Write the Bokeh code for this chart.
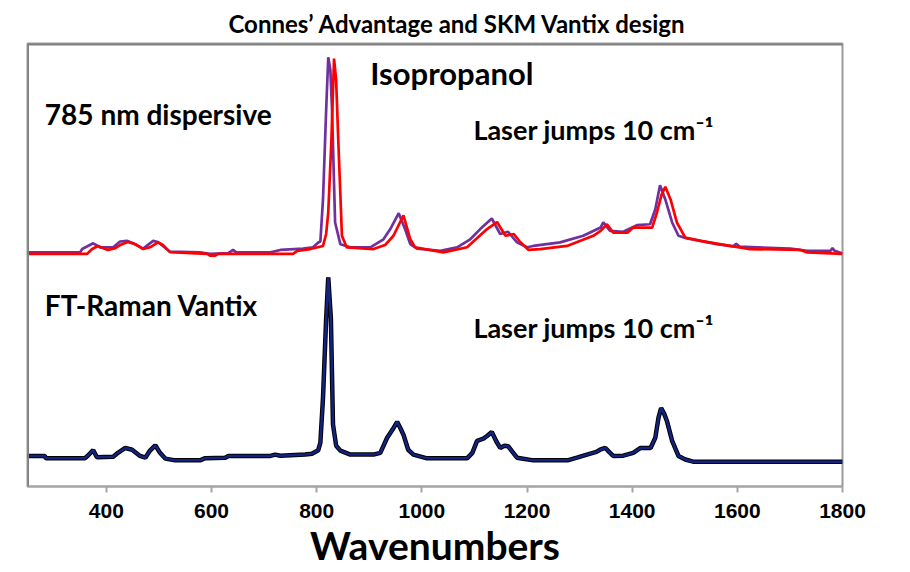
from bokeh.plotting import figure
from bokeh.models import Range1d, Label, Span, FixedTicker
from bokeh.embed import file_html
from bokeh.resources import INLINE

# ---- data (wavenumber cm-1, intensity arbitrary units incl. vertical offset) ----
ft_wn = [250, 283, 285, 359, 365, 375, 382, 413, 422, 436, 449, 464, 474, 483, 493, 502, 512,
         531, 578, 588, 626, 632, 712, 721, 731, 778, 791, 803, 807, 812, 818, 822, 827, 831,
         837, 845, 864, 908, 921, 934, 944, 953, 959, 965, 974, 984, 1010, 1086, 1096, 1105,
         1117, 1124, 1133, 1142, 1149, 1157, 1164, 1172, 1181, 1212, 1277, 1295, 1314, 1332,
         1339, 1349, 1358, 1364, 1383, 1402, 1416, 1435, 1444, 1450, 1455, 1461, 1466, 1476,
         1488, 1501, 1516, 1800]
ft_int = [6.9, 6.9, 6.35, 6.35, 7.0, 8.2, 6.6, 6.7, 7.6, 8.7, 8.3, 6.9, 6.5, 8.1, 9.3, 7.6, 6.3,
          5.9, 5.9, 6.4, 6.5, 6.9, 6.9, 7.2, 6.95, 7.2, 7.4, 8.2, 9.9, 20.0, 37.9, 47.2, 37.9, 14.0,
          9.2, 8.1, 7.2, 7.2, 7.6, 11.0, 12.8, 14.6, 13.2, 11.7, 8.3, 7.2, 6.35, 6.35, 7.6, 10.3,
          10.8, 11.4, 12.3, 10.1, 8.7, 9.2, 9.1, 7.85, 6.5, 5.9, 5.9, 6.5, 7.2, 7.8,
          8.3, 8.7, 7.6, 6.9, 6.95, 7.6, 8.7, 8.7, 11.0, 15.5, 17.7, 16.4, 14.8, 10.3,
          6.9, 6.1, 5.6, 5.6]

disp_a_wn = [250, 350, 354, 375, 388, 413, 426, 439, 451, 470, 489, 498, 521, 578, 597, 632, 641,
             647, 712, 731, 774, 793, 803, 807, 812, 818, 822, 826, 829, 835, 845, 864, 902, 927,
             940, 956, 968, 978, 991, 1035, 1067, 1092, 1111, 1133, 1149, 1164, 1181, 1200, 1212,
             1263, 1307, 1340, 1345, 1358, 1383, 1409, 1434, 1444, 1453, 1463, 1476, 1488, 1504,
             1530, 1561, 1592, 1598, 1604, 1701, 1733, 1777, 1781, 1785, 1800]
disp_a_int = [52.85, 52.85, 53.6, 54.9, 54.0, 54.0, 55.3, 55.45, 54.9, 53.7, 55.45, 55.2, 53.0,
              52.85, 52.5, 52.7, 53.4, 52.85, 52.85, 53.4, 53.7, 54.0, 55.1, 55.3, 64.8, 85.0,
              96.9, 94.0, 85.7, 59.6, 54.7, 54.0, 54.0, 55.8, 58.1, 61.7, 58.1, 54.7, 53.7, 53.2,
              54.0, 55.8, 58.1, 60.5, 57.0, 57.5, 55.1, 54.0, 54.3, 55.1, 56.6, 58.45, 59.6, 57.7,
              57.5, 59.0, 59.2, 62.6, 68.0, 64.8, 59.6, 56.6, 56.0, 55.45, 54.7, 54.2, 54.8,
              54.15, 53.7, 53.2, 53.2, 53.8, 53.2, 52.6]

disp_b_wn = [250, 363, 373, 384, 394, 403, 417, 426, 441, 455, 470, 483, 498, 508, 521, 592, 597,
             607, 613, 755, 763, 788, 812, 818, 822, 828, 833, 837, 841, 848, 857, 908, 930, 946,
             965, 978, 987, 1041, 1086, 1124, 1143, 1159, 1175, 1187, 1203, 1225, 1276, 1326,
             1340, 1352, 1364, 1391, 1402, 1438, 1447, 1456, 1463, 1473, 1485, 1501, 1530, 1592,
             1624, 1720, 1733, 1800]
disp_b_int = [52.5, 52.5, 53.6, 54.3, 53.8, 53.4, 53.8, 54.5, 55.2, 54.7, 53.6, 54.0, 55.1, 54.5,
              52.9, 52.5, 52.1, 52.1, 52.5, 52.5, 53.2, 53.6, 54.3, 57.0, 61.9, 78.3, 96.6, 91.7,
              78.3, 56.6, 54.0, 53.6, 54.5, 56.6, 61.2, 55.8, 54.0, 52.85, 54.0, 58.1, 59.7, 56.6,
              57.0, 55.2, 53.4, 53.6, 54.3, 56.6, 57.7, 59.2, 57.3, 57.3, 58.45, 58.45, 61.8, 65.9,
              67.65, 64.8, 59.6, 56.2, 55.45, 54.2, 53.6, 53.4, 52.85, 52.5]

x_ticks = [400, 600, 800, 1000, 1200, 1400, 1600, 1800]

TITLE = "Connes\u2019 Advantage and SKM Vantix design"
X_LABEL = "Wavenumbers"
notes = [
    ("785 nm dispersive", 283, 84.0, "28px"),
    ("Isopropanol", 902, 93.4, "31px"),
    ("Laser jumps 10 cm\u207b\u00b9", 1098, 80.5, "27px"),
    ("FT-Raman Vantix", 283, 40.9, "28px"),
    ("Laser jumps 10 cm\u207b\u00b9", 1098, 36.0, "27px"),
]

FONT = "Lato"

p = figure(width=900, height=570, output_backend="svg", toolbar_location=None,
           x_range=Range1d(250, 1800), y_range=Range1d(0, 100),
           title=TITLE, min_border_left=27, min_border_right=58,
           min_border_top=43, min_border_bottom=81)

p.title.align = "left"
p.title.offset = 201
p.title.vertical_align = "top"
p.title.standoff = 8
p.title.text_font = FONT
p.title.text_font_style = "bold"
p.title.text_font_size = "24px"
p.title.text_color = "black"

p.yaxis.visible = False
p.grid.visible = False
p.outline_line_color = "#9a9a9a"
p.outline_line_width = 2
p.background_fill_color = "white"
p.border_fill_color = "white"

ax = p.xaxis[0]
ax.ticker = FixedTicker(ticks=x_ticks)
ax.axis_line_color = "#a6a6a6"
ax.axis_line_width = 2
ax.major_tick_line_color = "#a6a6a6"
ax.major_tick_line_width = 2
ax.major_tick_out = 6
ax.major_tick_in = 0
ax.minor_tick_line_color = None
ax.major_label_text_font = "Liberation Sans"
ax.major_label_text_font_style = "bold"
ax.major_label_text_font_size = "21px"
ax.major_label_text_color = "black"
ax.major_label_standoff = 11
ax.axis_label = X_LABEL
ax.axis_label_text_font = FONT
ax.axis_label_text_font_style = "bold"
ax.axis_label_text_font_size = "39px"
ax.axis_label_text_color = "black"
ax.axis_label_standoff = 1

p.add_layout(Span(location=100, dimension="width", line_color="#808080", line_width=4))
p.add_layout(Span(location=250, dimension="height", line_color="#808080", line_width=3))

p.line(ft_wn, ft_int, line_color="black", line_width=4.5)
p.line(ft_wn, ft_int, line_color="#13237f", line_width=2.5)
p.line(disp_a_wn, disp_a_int, line_color="#7030a0", line_width=2.7)
p.line(disp_b_wn, disp_b_int, line_color="#ff0000", line_width=2.7)

for txt, x, y, fs in notes:
    p.add_layout(Label(x=x, y=y, text=txt, text_font=FONT, text_font_style="bold",
                       text_font_size=fs, text_color="black", text_align="left",
                       text_baseline="alphabetic"))

open("out.html", "w").write(file_html(p, INLINE))
